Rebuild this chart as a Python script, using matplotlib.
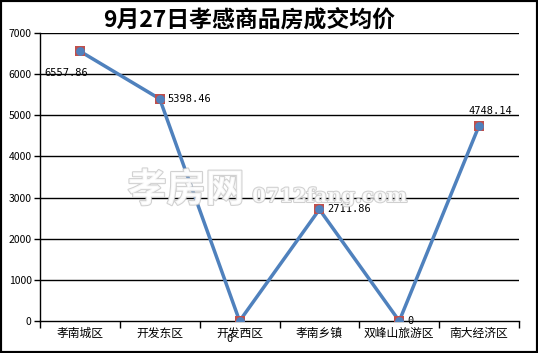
import matplotlib
matplotlib.use("Agg")
import matplotlib.pyplot as plt
import matplotlib.patheffects as pe
from matplotlib.patches import Rectangle

plt.rcParams['font.family'] = ['Noto Sans CJK SC', 'DejaVu Sans']

categories = ['孝南城区', '开发东区', '开发西区', '孝南乡镇', '双峰山旅游区', '南大经济区']
values = [6557.86, 5398.46, 0, 2711.86, 0, 4748.14]
labels = ['6557.86', '5398.46', '0', '2711.86', '0', '4748.14']
yticks = [0, 1000, 2000, 3000, 4000, 5000, 6000, 7000]

fig = plt.figure(figsize=(5.38, 3.53), dpi=100)
ax = fig.add_axes([40/538, 32/353, 479/538, 288/353])
x = list(range(len(categories)))

for t in yticks[1:]:
    ax.axhline(t, color='black', lw=1, zorder=1)

ax.plot(x, values, color='#4f81bd', lw=2.5, zorder=2)
ax.scatter(x, values, marker='s', s=60, color='#c0504d', zorder=3, linewidths=0)
ax.scatter(x, values, marker='o', s=40, color='#4f81bd', zorder=4, linewidths=0)

offsets = [(-36, -22), (8, 0), (-13, -18), (8, 0), (8, 0), (-11, 15)]
for xi, v, lab, (dx, dy) in zip(x, values, labels, offsets):
    ax.annotate(lab, (xi, v), xytext=(dx, dy), textcoords='offset pixels',
                fontsize=7.5, family='DejaVu Sans Mono', va='center', ha='left', zorder=6)

ax.set_xlim(-0.5, 5.5)
ax.set_ylim(0, 7000)
ax.set_yticks(yticks)
ax.set_yticklabels([str(t) for t in yticks], fontsize=7.5)
ax.set_xticks([i - 0.5 for i in range(7)])
ax.set_xticklabels([])
ax.set_xticks(x, minor=True)
ax.set_xticklabels(categories, minor=True, fontsize=8.5)
ax.tick_params(axis='x', which='minor', length=0, pad=4)
ax.tick_params(axis='x', which='major', length=5, direction='out', width=1)
ax.tick_params(axis='y', length=4, direction='out', width=1, pad=2)
for s in ['top', 'right']:
    ax.spines[s].set_visible(False)
for s in ['left', 'bottom']:
    ax.spines[s].set_linewidth(1)

fig.text(249/538, 0.943, '9月27日孝感商品房成交均价', ha='center', va='center',
         fontsize=16.5, fontweight='bold', family=['Noto Sans CJK SC', 'DejaVu Sans'])

stroke = [pe.withStroke(linewidth=1.5, foreground='#c8c8c8')]
fig.text(186/538, 1 - 190/353, '孝房网', ha='center', va='center', fontsize=28,
         color='white', alpha=0.85, fontweight='bold', zorder=5, path_effects=stroke)
fig.text(330/538, 1 - 197/353, '0712fang.com', ha='center', va='center', fontsize=14,
         color='white', alpha=0.85, family='DejaVu Serif', fontweight='bold', zorder=5,
         path_effects=stroke)

fig.patches.append(Rectangle((0, 0), 1, 1, transform=fig.transFigure, fill=False,
                             edgecolor='black', lw=3, zorder=10))
fig.savefig('out.png', dpi=100)
